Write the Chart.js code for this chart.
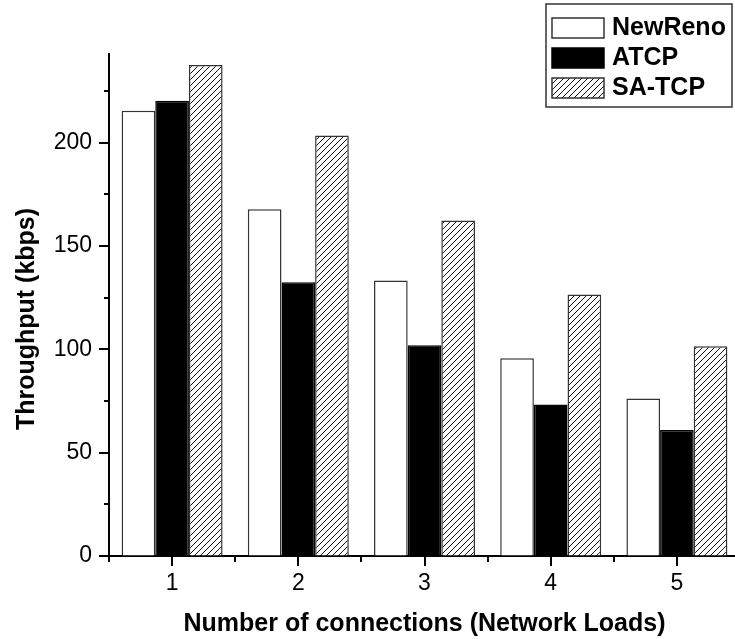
<!DOCTYPE html>
<html>
<head>
<meta charset="utf-8">
<script src="https://cdn.jsdelivr.net/npm/chart.js@4.4.1/dist/chart.umd.min.js"></script>
<style>
    html, body { margin: 0; padding: 0; background: #fff; overflow: hidden; }
    #wrap { width: 740px; height: 639px; }
</style>
</head>
<body>
<div id="wrap"><canvas id="barChart" width="740" height="639"></canvas></div>
<script>
// data
const categories = ['1', '2', '3', '4', '5'];
const newRenoValues = [215.5, 167.8, 133.4, 95.7, 76.3];
const atcpValues = [220.4, 132.5, 102.0, 73.3, 61.0];
const saTcpValues = [237.7, 203.5, 162.4, 126.6, 101.5];
const seriesNames = ['NewReno', 'ATCP', 'SA-TCP'];
const yMax = 243;
const yStep = 50;
const yTitle = 'Throughput (kbps)';
const xTitle = 'Number of connections (Network Loads)';

const FONT = "'Liberation Sans', Arial, sans-serif";

// diagonal hatch used for SA-TCP
function makeHatch() {
    const s = 6;
    const c = document.createElement('canvas');
    c.width = s; c.height = s;
    const g = c.getContext('2d');
    g.fillStyle = '#fff';
    g.fillRect(0, 0, s, s);
    g.strokeStyle = '#111';
    g.lineWidth = 1;
    g.beginPath();
    g.moveTo(0, s); g.lineTo(s, 0);
    g.moveTo(-1, 1); g.lineTo(1, -1);
    g.moveTo(s - 1, s + 1); g.lineTo(s + 1, s - 1);
    g.stroke();
    return g.createPattern(c, 'repeat');
}

/* -----------------------------
    tick marks, y title, boxed legend
------------------------------ */
const extrasPlugin = {
    id: 'extras',
    afterDraw(chart) {
        const ctx = chart.ctx;
        const xs = chart.scales.x;
        const ys = chart.scales.y;
        const area = chart.chartArea;

        ctx.save();
        ctx.lineWidth = 2;
        ctx.strokeStyle = '#000';
        ctx.beginPath();
        // y ticks: long at labels, short halfway
        for (let v = 0; v < yMax; v += yStep / 2) {
            const py = Math.round(ys.getPixelForValue(v));
            const len = (v % yStep === 0) ? 10 : 5;
            ctx.moveTo(area.left - len, py);
            ctx.lineTo(area.left, py);
        }
        // x ticks: long at the groups, short between them
        for (let i = 0; i <= categories.length * 2; i++) {
            const v = i / 2 - 0.5;
            const px = Math.round(xs.getPixelForValue(v));
            const len = (i % 2 === 1) ? 10 : 6;
            ctx.moveTo(px, area.bottom);
            ctx.lineTo(px, area.bottom + len);
        }
        ctx.stroke();

        // rotated y title
        ctx.save();
        ctx.translate(34, (area.top + area.bottom) / 2 + 14);
        ctx.rotate(-Math.PI / 2);
        ctx.font = 'bold 25px ' + FONT;
        ctx.fillStyle = '#000';
        ctx.textAlign = 'center';
        ctx.textBaseline = 'alphabetic';
        ctx.fillText(yTitle, 0, 0);
        ctx.restore();

        // legend box
        const bx = 546, by = 4, bw = 186, bh = 103;
        ctx.fillStyle = '#fff';
        ctx.fillRect(bx, by, bw, bh);
        ctx.lineWidth = 1.5;
        ctx.strokeStyle = '#333';
        ctx.strokeRect(bx, by, bw, bh);

        ctx.font = 'bold 25px ' + FONT;
        ctx.textBaseline = 'middle';
        ctx.textAlign = 'left';
        chart.data.datasets.forEach((ds, i) => {
            const cy = 28 + i * 30;
            ctx.fillStyle = ds.backgroundColor;
            ctx.fillRect(552, cy - 10, 52, 20);
            ctx.lineWidth = 1.5;
            ctx.strokeStyle = ds.borderColor;
            ctx.strokeRect(552, cy - 10, 52, 20);
            ctx.fillStyle = '#000';
            ctx.fillText(ds.label, 612, cy);
        });
        ctx.restore();
    }
};

document.addEventListener('DOMContentLoaded', function () {
    const hatch = makeHatch();
    const canvas = document.getElementById('barChart');

    new Chart(canvas, {
        type: 'bar',
        data: {
            labels: categories,
            datasets: [
                { label: seriesNames[0], data: newRenoValues, backgroundColor: '#fff', borderColor: '#333', borderWidth: 1.5 },
                { label: seriesNames[1], data: atcpValues, backgroundColor: '#000', borderColor: '#000', borderWidth: 1.5 },
                { label: seriesNames[2], data: saTcpValues, backgroundColor: hatch, borderColor: '#333', borderWidth: 1.5 }
            ]
        },
        options: {
            responsive: false,
            animation: false,
            devicePixelRatio: 1,
            categoryPercentage: 0.8,
            barPercentage: 1.0,
            layout: { padding: { top: 54, right: 0, left: 0, bottom: 0 } },
            plugins: {
                legend: { display: false },
                tooltip: { enabled: false }
            },
            scales: {
                x: {
                    offset: true,
                    grid: {
                        offset: false,
                        drawOnChartArea: false,
                        drawTicks: true,
                        tickLength: 10,
                        color: 'rgba(0,0,0,0)'
                    },
                    border: { display: true, color: '#000', width: 2 },
                    ticks: {
                        color: '#000',
                        padding: 4,
                        font: { family: FONT, size: 23 }
                    },
                    title: {
                        display: true,
                        text: xTitle,
                        color: '#000',
                        font: { family: FONT, size: 25, weight: 'bold' },
                        padding: { top: 0, bottom: 0 }
                    },
                    afterFit(scale) { scale.height = 83; }
                },
                y: {
                    min: 0,
                    max: yMax,
                    grid: {
                        drawOnChartArea: false,
                        drawTicks: true,
                        tickLength: 9,
                        color: 'rgba(0,0,0,0)'
                    },
                    border: { display: true, color: '#000', width: 2 },
                    ticks: {
                        stepSize: yStep,
                        includeBounds: false,
                        color: '#000',
                        padding: 8,
                        font: { family: FONT, size: 23 }
                    },
                    afterFit(scale) { scale.width = 109; }
                }
            }
        },
        plugins: [extrasPlugin]
    });
});
</script>
</body>
</html>
